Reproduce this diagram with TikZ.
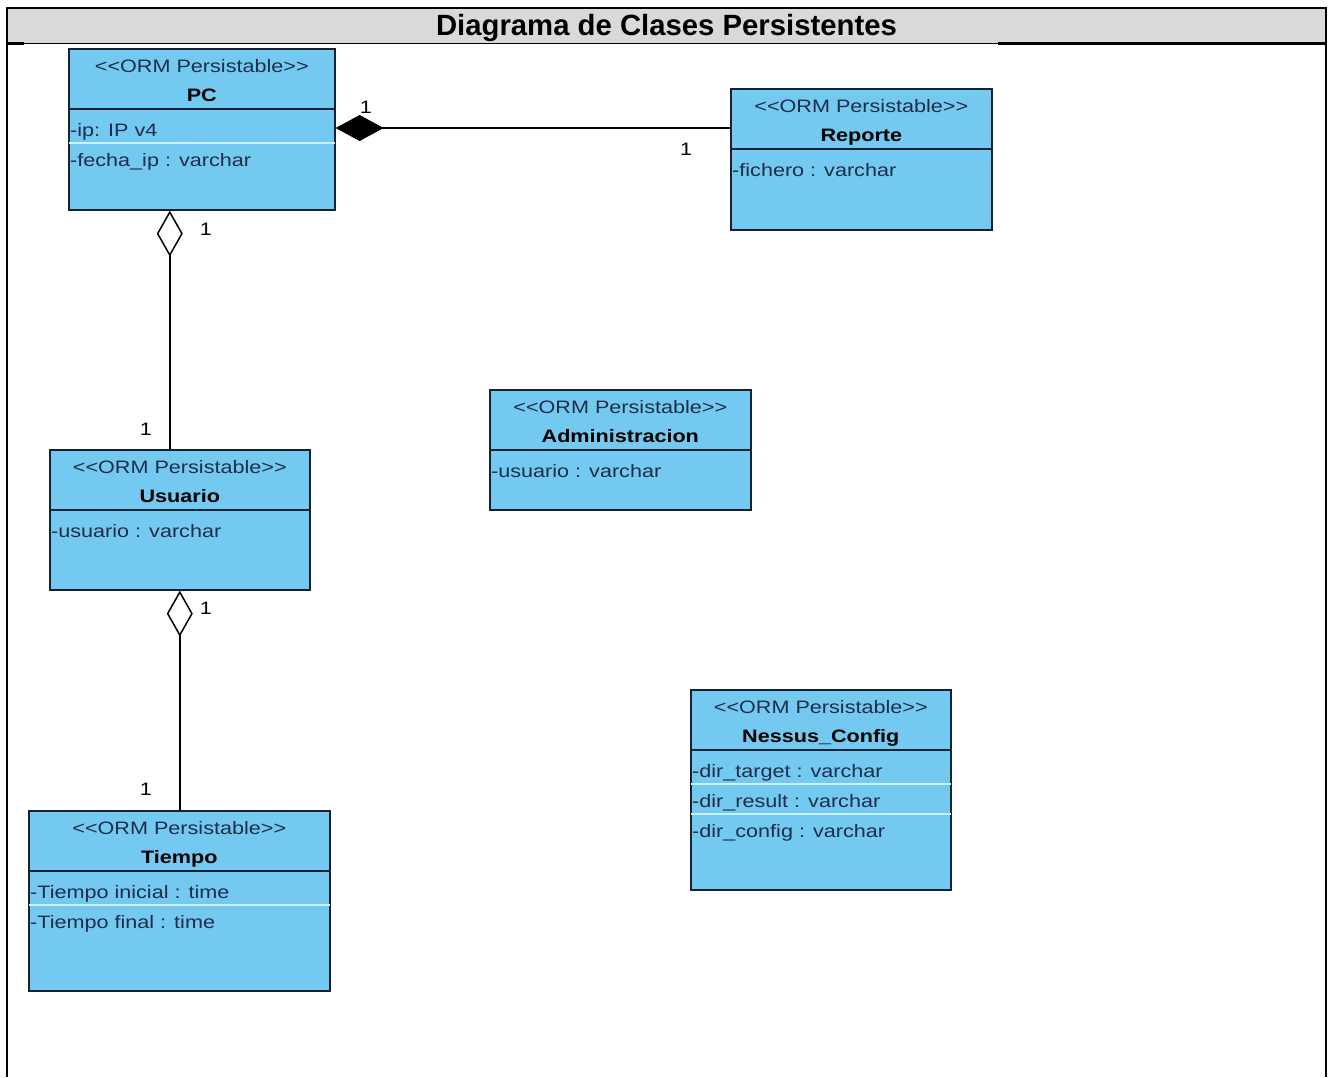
\documentclass[tikz,border=0pt]{standalone}
\usepackage{fontspec}
\setmainfont{Liberation Sans}
\newfontfamily\umlfont[FakeStretch=1.2]{Liberation Sans}
\usetikzlibrary{arrows.meta,calc}

\definecolor{classfill}{RGB}{115,201,240}
\definecolor{classedge}{RGB}{22,34,50}
\definecolor{rowline}{RGB}{205,240,255}
\definecolor{stereo}{RGB}{30,45,75}
\definecolor{band}{RGB}{217,217,217}

\tikzset{
  classbox/.style={draw=classedge, fill=classfill, line width=1.6pt, inner sep=0pt, anchor=north west},
  umltext/.style={font=\umlfont\fontsize{18}{20}\selectfont, inner sep=0pt},
  stereotype/.style={umltext, text=stereo, anchor=base},
  classname/.style={umltext, font=\umlfont\fontsize{18}{20}\selectfont\bfseries, text=black, anchor=base},
  attr/.style={umltext, text=stereo, anchor=base west},
  mult/.style={umltext, text=black},
  assoc/.style={line width=1.5pt, black},
  compo/.style={{Diamond[length=48pt,width=26pt]}-},
  aggr/.style={{Diamond[fill=white,length=46pt,width=26pt]}-},
}

% UML class: name, x, y (top left), width, height, class title, attribute list
\newcommand\classbox[7]{%
  \node[classbox, minimum width=#4pt, minimum height=#5pt] (#1) at (#2,#3) {};
  \draw[classedge, line width=1.6pt] ([yshift=-61pt]#1.north west) -- ([yshift=-61pt]#1.north east);
  \node[stereotype] (#1-st) at ([yshift=-24pt]#1.north) {<\kern0pt<ORM Persistable>\kern0pt>};
  \node[classname] (#1-nm) at ([yshift=-53pt]#1.north) {#6};
  \foreach \a [count=\i from 0] in {#7} {
    \ifnum\i>0
      \draw[rowline, line width=1.4pt]
        ([yshift={-65pt-30pt*\i}, xshift=0.8pt]#1.north west) -- ([yshift={-65pt-30pt*\i}, xshift=-0.8pt]#1.north east);
    \fi
    \node[attr] (#1-a\i) at ([yshift={-88pt-30pt*\i}, xshift=2pt]#1.north west) {\a};
  }%
}

\begin{document}
\begin{tikzpicture}[x=1pt, y=-1pt]
  \useasboundingbox (0,0) rectangle (1330,1077);
  \fill[white] (0,0) rectangle (1330,1077);

  % frame and title band
  \fill[band] (7,8) rectangle (1326,43.5);
  \draw[line width=2.5pt] (7,1077) -- (7,8) -- (1326,8) -- (1326,1077);
  \draw[line width=2.5pt] (7,43.5) -- (24,43.5);
  \draw[line width=2.5pt] (998,43.5) -- (1326,43.5);
  \draw[line width=1pt] (24,43.5) -- (998,43.5);
  \node[font=\fontsize{29.3}{31}\selectfont\bfseries, anchor=base, inner sep=0pt] (title) at (666.5,35) {Diagrama de Clases Persistentes};

  % classes
  \classbox{pc}{68}{48}{266}{161}{PC}{-ip: IP v4, -fecha\_ip : varchar}
  \classbox{rep}{730}{88}{261}{141}{Reporte}{-fichero : varchar}
  \classbox{adm}{489}{389}{261}{120}{Administracion}{-usuario : varchar}
  \classbox{usr}{49}{449}{260}{140}{Usuario}{-usuario : varchar}
  \classbox{tie}{28}{810}{301}{180}{Tiempo}{-Tiempo inicial : time, -Tiempo final : time}
  \classbox{nes}{690}{689}{260}{200}{Nessus\_Config}{-dir\_target : varchar, -dir\_result : varchar, -dir\_config :  varchar}

  % associations
  \coordinate (pcr) at ([yshift=-80pt]pc.north east);
  \draw[assoc, compo] (pcr) -- (rep.west |- pcr);
  \coordinate (pcu) at ([xshift=-32pt]pc.south);
  \draw[assoc, aggr] (pcu) -- (usr.north -| pcu);
  \draw[assoc, aggr] (usr.south) -- (tie.north -| usr.south);

  % multiplicities
  \node[mult] (m1) at (366,107) {1};
  \node[mult] (m2) at (686,149) {1};
  \node[mult] (m3) at (206,229) {1};
  \node[mult] (m4) at (146,429) {1};
  \node[mult] (m5) at (206,608) {1};
  \node[mult] (m6) at (146,789) {1};
\end{tikzpicture}
\end{document}
